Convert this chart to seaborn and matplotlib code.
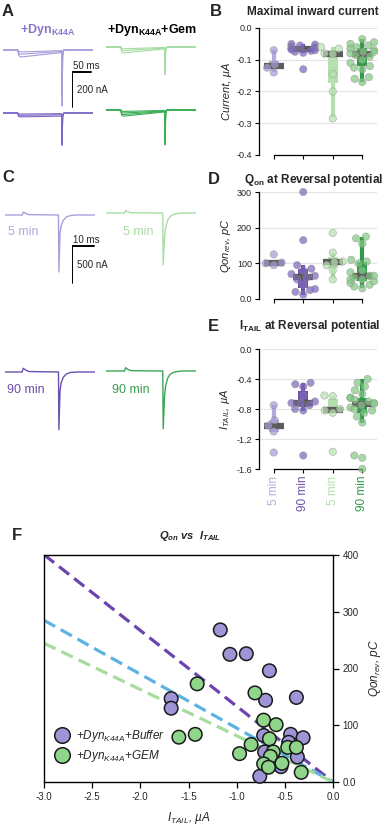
import numpy as np
import pandas as pd
import matplotlib
matplotlib.use("Agg")
import matplotlib.pyplot as plt
import seaborn as sns

# ---------------- data ----------------
cond_keys = ["Buffer 5 min", "Buffer 90 min", "GEM 5 min", "GEM 90 min"]
cond_ticklabels = ["5 min", "90 min", "5 min", "90 min"]

# B: maximal inward current (uA)
cur_buf5 = [-0.07, -0.115, -0.125, -0.14]
cur_buf90 = [-0.05, -0.052, -0.055, -0.058, -0.06, -0.062, -0.065, -0.068, -0.07, -0.072, -0.075, -0.078, -0.13]
cur_gem5 = [-0.06, -0.065, -0.08, -0.082, -0.145, -0.2, -0.285]
cur_gem90 = [-0.035, -0.045, -0.05, -0.055, -0.06, -0.065, -0.07, -0.075, -0.075, -0.08,
             -0.085, -0.09, -0.1, -0.11, -0.12, -0.125, -0.13, -0.155, -0.16, -0.17]
cur_ticks = [-0.4, -0.3, -0.2, -0.1, 0.0]
cur_ticklabels = ["-0.4", "-0.3", "-0.2", "-0.1", "0.0"]

# D: Qon at reversal potential (pC)
qon_buf5 = [95, 100, 102, 125]
qon_buf90 = [12, 20, 25, 28, 40, 55, 60, 65, 70, 80, 85, 95, 165, 300]
qon_gem5 = [55, 80, 95, 103, 105, 130, 185]
qon_gem90 = [30, 35, 40, 45, 50, 55, 55, 60, 65, 65, 75, 80, 100, 105, 110, 155, 170, 175]
qon_ticks = [0, 100, 200, 300]
qon_ticklabels = ["0.0", "100", "200", "300"]

# E: I_TAIL at reversal potential (uA)
itail_buf5 = [-0.75, -0.95, -1.02, -1.1, -1.38]
itail_buf90 = [-0.45, -0.47, -0.5, -0.62, -0.7, -0.72, -0.72, -0.75, -0.8, -0.82, -1.42]
itail_gem5 = [-0.62, -0.63, -0.8, -0.82, -0.85, -1.37]
itail_gem90 = [-0.4, -0.45, -0.5, -0.55, -0.6, -0.65, -0.65, -0.68, -0.7, -0.72, -0.73,
               -0.75, -0.78, -0.8, -0.82, -0.85, -0.9, -0.98, -1.42, -1.45, -1.6]
itail_ticks = [-1.6, -1.2, -0.8, -0.4, 0.0]
itail_ticklabels = ["-1.6", "-1.2", "-0.8", "-0.4", "0.0"]

# F: scatter Qon vs I_TAIL
f_buf_itail = [-1.17, -1.07, -0.90, -0.66, -1.68, -1.68, -0.70, -0.38, -0.72, -0.44, -0.31, -0.71, -0.37, -0.54, -0.76, -0.46]
f_buf_qon = [268, 225, 226, 196, 147, 130, 144, 149, 82, 84, 78, 53, 44, 27, 10, 70]
f_gem_itail = [-1.41, -0.81, -0.72, -0.59, -1.60, -1.43, -0.85, -0.97, -0.66, -0.62, -0.47, -0.38, -0.65, -0.72, -0.67, -0.53, -0.33]
f_gem_qon = [173, 157, 109, 101, 79, 84, 66, 50, 76, 53, 61, 61, 45, 32, 26, 33, 17]
fit_names = ["Buffer", "pooled", "GEM"]
fit_slopes = [-133.5, -95.0, -81.5]
fit_x = [-3.0, 0.0]
f_xticks = [-3.0, -2.5, -2.0, -1.5, -1.0, -0.5, 0.0]
f_yticks = [0, 100, 200, 300, 400]
f_yticklabels = ["0.0", "100", "200", "300", "400"]

# A: voltage-step current traces (t in ms, I in nA)
a_t = [0, 39, 41, 46, 150, 155, 155.6, 157, 160, 237]
a_buf_top = [[0, 0, -30, -40, -16, -15, -320, -40, 0, 0],
             [0, 0, -18, -24, -9, -8, -270, -30, 0, 0],
             [0, 0, -8, -11, -4, -3, -220, -20, 0, 0]]
a_buf_bot = [[0, 0, -20, -22, -18, -18, -185, -25, 0, 0],
             [0, 0, -12, -13, -10, -10, -170, -20, 0, 0],
             [0, 0, -5, -6, -4, -4, -150, -15, 0, 0]]
a_gem_top = [[0, 0, -28, -34, -12, -11, -160, -20, 0, 0],
             [0, 0, -17, -21, -7, -6, -140, -15, 0, 0],
             [0, 0, -8, -10, -3, -3, -120, -10, 0, 0]]
a_gem_bot = [[0, 0, -30, -35, -12, -11, -200, -25, 0, 0],
             [0, 0, -22, -26, -9, -8, -185, -20, 0, 0],
             [0, 0, -14, -17, -6, -5, -170, -15, 0, 0],
             [0, 0, -6, -8, -3, -3, -150, -10, 0, 0]]

# C: tail-current traces at reversal potential (t in ms, I in nA)
c_buf5_t = [0, 7.8, 8.3, 9.5, 11, 24.3, 24.5, 25.0, 25.5, 26.5, 28, 30, 33, 41]
c_buf5_i = [0, 0, 40, 20, 5, 0, -770, -250, -150, -70, -25, -5, 0, 0]
c_gem5_t = [0, 8.4, 8.9, 10, 11.5, 25.8, 26.0, 26.6, 27.1, 28, 29, 30.5, 32, 35, 41]
c_gem5_i = [0, 0, 35, 15, 3, 0, -700, -330, -200, -100, -50, -20, -8, 0, 0]
c_buf90_t = [0, 7.8, 8.3, 9.5, 11, 24.3, 24.5, 25.0, 25.5, 26.5, 28, 30, 33, 41]
c_buf90_i = [0, 0, 50, 25, 6, 0, -780, -260, -150, -70, -25, -5, 0, 0]
c_gem90_t = [0, 8.4, 8.9, 10, 11.5, 25.8, 26.0, 26.6, 27.1, 28, 29, 30.5, 32, 35, 41]
c_gem90_i = [0, 0, 45, 20, 4, 0, -780, -340, -200, -100, -50, -20, -8, 0, 0]

scaleA = (50, 200)   # ms, nA
scaleC = (10, 500)   # ms, nA

# ---------------- style ----------------
sns.set_theme(style="ticks")
plt.rcParams["font.family"] = ["Liberation Sans", "DejaVu Sans"]
plt.rcParams["mathtext.default"] = "regular"
plt.rcParams["axes.unicode_minus"] = False

W, H = 388, 832
fig = plt.figure(figsize=(W / 100, H / 100), dpi=100)


def add_ax(l, t, w, h):
    return fig.add_axes([l / W, 1 - (t + h) / H, w / W, h / H])


def ftext(x, y, s, **kw):
    kw.setdefault("va", "center")
    return fig.text(x / W, 1 - y / H, s, **kw)


c_buf5 = "#b3acdf"
c_buf90 = "#6b4fab"
c_gem5 = "#b4e0ad"
c_gem90 = "#2f9b4a"
cond_colors = [c_buf5, c_buf90, c_gem5, c_gem90]
pt_colors = dict(zip(cond_keys, ["#a59cd8", "#7d67bf", "#b8e3b1", "#82c983"]))
med_color = "#5b5b5b"


def box_panel(ax, groups, ylim, yticks, yticklabels, ylabel):
    df = pd.DataFrame([(k, v) for k, vals in zip(cond_keys, groups) for v in vals],
                      columns=["cond", "val"])
    for k, col in zip(cond_keys, cond_colors):
        sub = df[df["cond"] == k]
        sns.boxplot(data=sub, x="cond", y="val", order=cond_keys, color=col, saturation=1,
                    width=0.34, whis=1.5, showfliers=False, showcaps=False, linewidth=0,
                    linecolor=col, ax=ax,
                    whiskerprops=dict(linewidth=3.0, color=col, solid_capstyle="butt"),
                    medianprops=dict(visible=False),
                    boxprops=dict(edgecolor="none"))
    sns.pointplot(data=df, x="cond", y="val", order=cond_keys, estimator="median",
                  errorbar=None, color=med_color, markers="_", linestyle="none",
                  markersize=14, markeredgewidth=4.5, ax=ax)
    sns.swarmplot(data=df, x="cond", y="val", hue="cond", order=cond_keys, hue_order=cond_keys,
                  palette=pt_colors, size=5.3, alpha=0.72, edgecolor="#8e8e8e", linewidth=0.4,
                  legend=False, ax=ax, warn_thresh=1)
    for c in ax.collections:
        c.set_clip_on(False)
    for ln in ax.lines:
        ln.set_clip_on(False)
    ax.set_xlim(-0.5, 3.5)
    ax.set_ylim(*ylim)
    ax.set_yticks(yticks)
    ax.set_xticks(range(4))
    sns.despine(ax=ax, trim=True)
    ax.set_yticks(yticks)
    ax.set_yticklabels(yticklabels)
    ax.yaxis.grid(True, color="#e4e4e4", lw=0.8)
    ax.set_axisbelow(True)
    ax.set_xlabel("")
    ax.set_ylabel(ylabel, fontsize=8, style="italic", labelpad=3)
    ax.tick_params(axis="both", labelsize=6.5, length=3, width=0.8, color="black", pad=2)
    for s in ["left", "bottom"]:
        ax.spines[s].set_linewidth(0.9)
        ax.spines[s].set_color("black")


# ---------------- B ----------------
axB = add_ax(259, 28, 118, 127)
box_panel(axB, [cur_buf5, cur_buf90, cur_gem5, cur_gem90], (-0.4, 0.0),
          cur_ticks, cur_ticklabels, "Current, µA")
axB.set_xticklabels([])

# ---------------- D ----------------
axD = add_ax(259, 192, 118, 107)
box_panel(axD, [qon_buf5, qon_buf90, qon_gem5, qon_gem90], (0, 300),
          qon_ticks, qon_ticklabels, "Qon$_{rev}$, pC")
axD.set_xticklabels([])

# ---------------- E ----------------
axE = add_ax(259, 349, 118, 120)
box_panel(axE, [itail_buf5, itail_buf90, itail_gem5, itail_gem90], (-1.6, 0.0),
          itail_ticks, itail_ticklabels, "I$_{TAIL}$, µA")
axE.set_xticklabels(cond_ticklabels, rotation=90, fontsize=8.5)
for lab, col in zip(axE.get_xticklabels(), cond_colors):
    lab.set_color(col)

# ---------------- F ----------------
axF = add_ax(44, 555, 289, 227)
fit_colors = ["#6b45ad", "#5cb3e3", "#a8dc9e"]
for slope, col in zip(fit_slopes, fit_colors):
    xs = np.array(fit_x)
    sns.lineplot(x=xs, y=slope * xs, color=col, linewidth=2.3, linestyle=(0, (4, 2)),
                 ax=axF, zorder=2)
df_sc = pd.DataFrame({
    "itail": f_buf_itail + f_gem_itail,
    "qon": f_buf_qon + f_gem_qon,
    "group": ["Buffer"] * len(f_buf_itail) + ["GEM"] * len(f_gem_itail),
})
sns.scatterplot(data=df_sc, x="itail", y="qon", hue="group",
                palette={"Buffer": "#9d95d6", "GEM": "#8fd68b"}, s=95,
                edgecolor="#1a1a1a", linewidth=1.1, ax=axF, zorder=3)
for c in axF.collections:
    c.set_clip_on(False)
handles, _ = axF.get_legend_handles_labels()
axF.legend(handles, ["+Dyn$_{K44A}$+Buffer", "+Dyn$_{K44A}$+GEM"], loc="lower left",
           bbox_to_anchor=(0.005, 0.06), frameon=False, prop=dict(style="italic", size=8.5),
           handletextpad=0.2, labelspacing=0.3, borderaxespad=0, markerscale=1.15)
axF.set_xlim(-3.0, 0.0)
axF.set_ylim(0, 400)
axF.set_xticks(f_xticks)
axF.set_xticklabels([f"{v:.1f}" for v in f_xticks])
axF.yaxis.tick_right()
axF.yaxis.set_label_position("right")
axF.set_yticks(f_yticks)
axF.set_yticklabels(f_yticklabels)
axF.tick_params(axis="both", labelsize=7, length=4, width=0.9, color="black", pad=3)
axF.tick_params(axis="y", left=False, right=True)
axF.tick_params(axis="x", top=False, bottom=True)
for s in axF.spines.values():
    s.set_linewidth(1.0)
    s.set_color("black")
axF.set_xlabel("I$_{TAIL}$, µA", fontsize=8.5, style="italic", labelpad=6)
axF.set_ylabel("Qon$_{rev}$, pC", fontsize=8.5, style="italic", labelpad=6, rotation=90)

# ---------------- traces ----------------
msA, nAA = 50 / 19, 200 / 35
msC, nAC = 10 / 22, 500 / 37


def trace_ax(left, baseline, ms_px, nA_px, ylim, width=90):
    h = (ylim[1] - ylim[0]) / nA_px
    top = baseline - ylim[1] / nA_px
    ax = add_ax(left, top, width, h)
    ax.set_xlim(0, width * ms_px)
    ax.set_ylim(*ylim)
    ax.axis("off")
    return ax


ylimA = (-420, 40)
for (left, base, sweeps, col) in [(3, 50, a_buf_top, "#a69cdc"), (3, 113, a_buf_bot, "#7a64c4"),
                                  (106, 47, a_gem_top, "#a4dba4"), (106, 110, a_gem_bot, "#3aae55")]:
    ax = trace_ax(left, base, msA, nAA, ylimA)
    for sw in sweeps:
        sns.lineplot(x=a_t, y=sw, color=col, linewidth=0.8, sort=False, estimator=None, ax=ax)
    ax.set_xlabel(""); ax.set_ylabel("")

axSA = trace_ax(72, 72, msA, nAA, ylimA)
axSA.plot([scaleA[0], 0, 0], [0, 0, -scaleA[1]], color="black", lw=1.4, solid_joinstyle="miter")
ftext(73, 66, "50 ms", fontsize=7, ha="left")
ftext(77, 90, "200 nA", fontsize=7, ha="left")

ylimC = (-900, 100)
for (left, base, t, i, col) in [(5, 215, c_buf5_t, c_buf5_i, "#a99fdc"),
                                (106, 213, c_gem5_t, c_gem5_i, "#a6dea6"),
                                (5, 372, c_buf90_t, c_buf90_i, "#6a50b0"),
                                (106, 371, c_gem90_t, c_gem90_i, "#3aa655")]:
    ax = trace_ax(left, base, msC, nAC, ylimC)
    sns.lineplot(x=t, y=i, color=col, linewidth=1.0, sort=False, estimator=None, ax=ax)
    ax.set_xlabel(""); ax.set_ylabel("")

axSC = trace_ax(72, 246, msC, nAC, ylimC)
axSC.plot([scaleC[0], 0, 0], [0, 0, -scaleC[1]], color="black", lw=1.4, solid_joinstyle="miter")
ftext(73, 240, "10 ms", fontsize=7, ha="left")
ftext(77, 265, "500 nA", fontsize=7, ha="left")

ftext(8, 232, "5 min", fontsize=9, color="#b1a9de", ha="left")
ftext(123, 232, "5 min", fontsize=9, color="#a8dca3", ha="left")
ftext(7, 390, "90 min", fontsize=9, color="#6a4fa8", ha="left")
ftext(112, 390, "90 min", fontsize=9, color="#3a9e50", ha="left")

# ---------------- titles & letters ----------------
ftext(2, 11, "A", fontsize=12, fontweight="bold", ha="left")
ftext(2, 177, "C", fontsize=12, fontweight="bold", ha="left")
ftext(210, 12, "B", fontsize=12, fontweight="bold", ha="left")
ftext(208, 180, "D", fontsize=12, fontweight="bold", ha="left")
ftext(208, 326, "E", fontsize=12, fontweight="bold", ha="left")
ftext(12, 536, "F", fontsize=12, fontweight="bold", ha="left")

ftext(20, 30, "+Dyn$_{K44A}$", fontsize=9, fontweight="bold", color="#8a76c8", ha="left")
ftext(107, 30, "+Dyn$_{K44A}$+Gem", fontsize=9, fontweight="bold", color="black", ha="left")
ftext(313, 12, "Maximal inward current", fontsize=8.5, fontweight="bold", ha="center")
ftext(314, 180, "Q$_{on}$ at Reversal potential", fontsize=8.5, fontweight="bold", ha="center")
ftext(310, 326, "I$_{TAIL}$ at Reversal potential", fontsize=8.5, fontweight="bold", ha="center")
ftext(190, 536, "Q$_{on}$ vs  I$_{TAIL}$", fontsize=8, fontweight="bold", style="italic", ha="center")

fig.savefig("out.png", dpi=100)
